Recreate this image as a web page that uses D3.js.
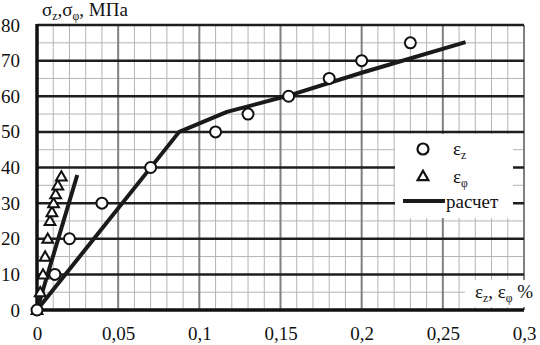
<!DOCTYPE html>
<html>
<head>
<meta charset="utf-8">
<script src="https://cdn.jsdelivr.net/npm/d3@7"></script>
<style>
  html, body { margin: 0; padding: 0; background: #fff; }
  svg text { font-family: "Liberation Serif", Tinos, "Times New Roman", "DejaVu Serif", serif; fill: #111; }
</style>
</head>
<body>
<script>
// experiment: eps_z (circles)
const epsZ   = [0, 0.011, 0.020, 0.040, 0.070, 0.110, 0.130, 0.155, 0.180, 0.200, 0.230];
const sigmaZ = [0, 10, 20, 30, 40, 50, 55, 60, 65, 70, 75];
// experiment: eps_phi (triangles)
const epsPhi   = [0, 0.002, 0.0037, 0.005, 0.0066, 0.008, 0.0092, 0.0102, 0.0115, 0.0128, 0.0150];
const sigmaPhi = [0, 5, 10, 15, 20, 25, 27.5, 30, 32.5, 35, 37.5];
// calculation lines
const calcPhiEps   = [0, 0.0248];
const calcPhiSigma = [0, 37.9];
const calcZEps   = [0, 0.0876, 0.117, 0.155, 0.200, 0.264];
const calcZSigma = [0, 50, 55.6, 60.2, 66.6, 75.2];

const xTicks = [0, 0.05, 0.1, 0.15, 0.2, 0.25, 0.3];
const yTicks = [0, 10, 20, 30, 40, 50, 60, 70, 80];

const width = 540;
const height = 345;
const margins = { top: 25, left: 37, bottom: 35, right: 16 };
const x_start = margins.left;
const x_end = width - margins.right;
const y_start = height - margins.bottom;
const y_end = margins.top;
const serif = '"Liberation Serif", Tinos, "Times New Roman", "DejaVu Serif", serif';

const fmt = v => String(v).replace('.', ',');

const svg = d3.select('body')
  .append('svg')
  .attr('width', width)
  .attr('height', height);

const xScale = d3.scaleLinear().domain([0, 0.3]).range([x_start, x_end]);
const yScale = d3.scaleLinear().domain([0, 80]).range([y_start, y_end]);

// grid
const grid_g = svg.append('g').attr('class', 'grid');
const minorX = d3.range(1, 30).filter(i => i % 5 !== 0).map(i => i / 100);
const minorY = d3.range(5, 80, 10);

grid_g.selectAll('.vminor').data(minorX).enter().append('line')
  .attr('x1', d => xScale(d)).attr('x2', d => xScale(d))
  .attr('y1', y_start).attr('y2', y_end)
  .attr('stroke', '#b4b4b4').attr('stroke-width', 1);
grid_g.selectAll('.hminor').data(minorY).enter().append('line')
  .attr('y1', d => yScale(d)).attr('y2', d => yScale(d))
  .attr('x1', x_start).attr('x2', x_end)
  .attr('stroke', '#b4b4b4').attr('stroke-width', 1);
grid_g.selectAll('.vmajor').data(xTicks.slice(1)).enter().append('line')
  .attr('x1', d => xScale(d)).attr('x2', d => xScale(d))
  .attr('y1', y_start).attr('y2', y_end)
  .attr('stroke', '#808080').attr('stroke-width', 2);
grid_g.selectAll('.hmajor').data(yTicks.slice(1)).enter().append('line')
  .attr('y1', d => yScale(d)).attr('y2', d => yScale(d))
  .attr('x1', x_start).attr('x2', x_end)
  .attr('stroke', '#1e1e1e').attr('stroke-width', 2.5);

// white boxes (legend area and x-axis title)
svg.append('rect').attr('x', 395).attr('y', 134).attr('width', 118).attr('height', 84).attr('fill', '#fff');
svg.append('rect').attr('x', 465).attr('y', 280).attr('width', 75).attr('height', 27).attr('fill', '#fff');

// axes lines
svg.append('line').attr('x1', x_start).attr('x2', x_start).attr('y1', y_start + 1.5).attr('y2', y_end - 1)
  .attr('stroke', '#111').attr('stroke-width', 3.5);
svg.append('line').attr('x1', x_start - 1.5).attr('x2', x_end).attr('y1', y_start).attr('y2', y_start)
  .attr('stroke', '#111').attr('stroke-width', 3.5);

// tick labels
const xAxis = d3.axisBottom(xScale).tickValues(xTicks).tickFormat(fmt).tickSize(0).tickPadding(17);
svg.append('g').attr('transform', 'translate(0,' + y_start + ')').call(xAxis)
  .attr('font-family', serif)
  .call(g => g.select('.domain').remove())
  .selectAll('text').attr('font-size', 19).attr('fill', '#111');
const yAxis = d3.axisLeft(yScale).tickValues(yTicks).tickSize(0).tickPadding(17);
svg.append('g').attr('transform', 'translate(' + x_start + ',0)').call(yAxis)
  .attr('font-family', serif)
  .call(g => g.select('.domain').remove())
  .selectAll('text').attr('font-size', 19).attr('fill', '#111');

// calc lines
const line = d3.line().x(d => xScale(d[0])).y(d => yScale(d[1]));
[[calcPhiEps, calcPhiSigma], [calcZEps, calcZSigma]].forEach(([xs, ys]) => {
  svg.append('path')
    .datum(xs.map((v, i) => [v, ys[i]]))
    .attr('d', line)
    .attr('fill', 'none').attr('stroke', '#1a1a1a').attr('stroke-width', 4)
    .attr('stroke-linejoin', 'round');
});

// markers
const tri = d3.symbol().type(d3.symbolTriangle).size(50);
svg.selectAll('.tri').data(epsPhi.map((v, i) => [v, sigmaPhi[i]])).enter().append('path')
  .attr('d', tri)
  .attr('transform', d => 'translate(' + xScale(d[0]) + ',' + (yScale(d[1]) + 1) + ')')
  .attr('fill', '#fff').attr('stroke', '#111').attr('stroke-width', 2);
svg.selectAll('.circ').data(epsZ.map((v, i) => [v, sigmaZ[i]])).enter().append('circle')
  .attr('cx', d => xScale(d[0])).attr('cy', d => yScale(d[1])).attr('r', 5.5)
  .attr('fill', '#fff').attr('stroke', '#111').attr('stroke-width', 2);

// legend
svg.append('circle').attr('cx', 423).attr('cy', 149).attr('r', 5.5)
  .attr('fill', '#fff').attr('stroke', '#111').attr('stroke-width', 2.2);
svg.append('path').attr('d', tri).attr('transform', 'translate(423,177)')
  .attr('fill', '#fff').attr('stroke', '#111').attr('stroke-width', 2.2);
svg.append('line').attr('x1', 403).attr('x2', 445).attr('y1', 201).attr('y2', 201)
  .attr('stroke', '#1a1a1a').attr('stroke-width', 4);

function subText(x, y, parts, size) {
  const t = svg.append('text').attr('x', x).attr('y', y).attr('font-size', size)
    .attr('font-family', serif);
  parts.forEach(p => {
    const s = t.append('tspan').text(p[0]);
    if (p[1] === 'sub') s.attr('font-size', size * 0.62).attr('dy', 4);
    else if (p[1] === 'up') s.attr('dy', -4);
  });
  return t;
}
subText(453, 155, [['ε'], ['z', 'sub']], 19);
subText(453, 183, [['ε'], ['φ', 'sub']], 19);
svg.append('text').attr('x', 446).attr('y', 208).attr('font-size', 19)
  .attr('font-family', serif).text('расчет');

// axis titles
subText(42, 16, [['σ'], ['z', 'sub'], [',', 'up'], ['σ'], ['φ', 'sub'], [', ', 'up'], ['МПа']], 19);
subText(475, 298, [['ε'], ['z', 'sub'], [', ', 'up'], ['ε'], ['φ', 'sub'], [' %', 'up']], 19);
</script>
</body>
</html>
